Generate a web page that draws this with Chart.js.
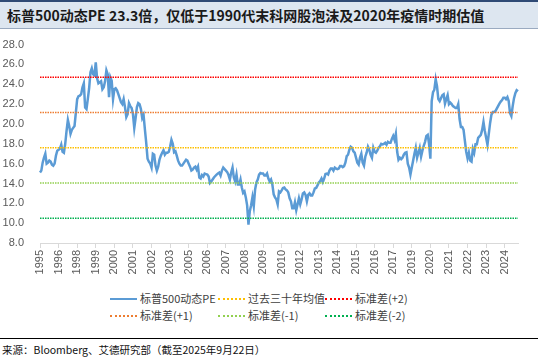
<!DOCTYPE html>
<html>
<head>
<meta charset="utf-8">
<script src="https://cdn.jsdelivr.net/npm/chart.js@4.4.1/dist/chart.umd.min.js"></script>
<style>
  body { margin: 0; width: 538px; height: 361px; background: #fff; position: relative; overflow: hidden; font-family: "Noto Sans CJK SC", sans-serif; }
  #title { position: absolute; left: 0; top: 0; width: 531px; height: 26px; background: #dde6f0; border-top: 2px solid #2f4a75; border-bottom: 1px solid #9aaac0; font-weight: bold; font-size: 14px; line-height: 26px; padding-left: 7px; box-sizing: content-box; color: #1a1a1a; }
  #wrap { position: absolute; left: 0; top: 30px; width: 538px; height: 250px; }
  .lg { position: absolute; font-size: 11px; color: #404040; line-height: 14px; white-space: nowrap; }
  .lg i { display: inline-block; width: 27px; height: 0; vertical-align: middle; margin-right: 3px; position: relative; top: -1px; }
  #sep { position: absolute; left: 0; top: 338px; width: 538px; height: 1px; background: #000; }
  #src { position: absolute; left: 2px; top: 342px; font-size: 10.5px; color: #111; }
</style>
</head>
<body>
<div id="title">标普500动态PE 23.3倍，仅低于1990代末科网股泡沫及2020年疫情时期估值</div>
<div id="wrap"><canvas id="chart" width="538" height="250"></canvas></div>
<div id="legend"></div>
<div id="sep"></div>
<div id="src">来源：Bloomberg、艾德研究部（截至2025年9月22日）</div>
<script>
// monthly, Sep 1995 - Sep 2025
const startYear = 1995;
const startMonth = 9;
const monthCount = 361;
const labelStep = 14;

const peValues = [
  15.1, 15.3, 16.1, 16.6, 17.0, 16.0, 16.1, 16.3, 16.2, 15.9, 15.8, 16.0, 16.8, 17.3, 17.4, 17.5, 17.9, 17.2, 17.1, 18.0,
  19.3, 20.4, 19.8, 19.0, 19.4, 19.6, 19.8, 21.15, 22.5, 22.8, 22.85, 23.0, 23.7, 24.1, 21.65, 21.5, 22.5, 23.6, 25.2, 25.6,
  25.0, 24.9, 26.2, 24.6, 24.1, 24.2, 24.3, 23.5, 23.7, 24.3, 25.4, 25.0, 22.7, 24.7, 24.35, 22.5, 23.5, 23.6, 23.4, 23.0,
  22.6, 22.2, 22.0, 22.5, 21.7, 20.7, 21.0, 22.1, 21.8, 21.6, 21.0, 19.6, 20.6, 21.7, 22.1, 22.0, 21.5, 20.6, 20.9, 19.45,
  18.1, 16.5, 16.2, 16.0, 15.6, 17.0, 16.9, 15.8, 15.3, 15.7, 16.4, 16.8, 17.1, 17.35, 16.9, 17.1, 17.1, 17.2, 17.7, 18.4,
  18.0, 17.15, 17.25, 16.8, 16.3, 16.0, 15.8, 15.8, 16.0, 16.2, 16.4, 16.3, 16.0, 15.7, 15.3, 15.4, 15.6, 15.7, 15.4, 15.7,
  14.6, 14.5, 14.85, 14.7, 15.0, 14.95, 14.9, 14.7, 14.05, 14.2, 14.4, 14.6, 14.75, 14.9, 15.0, 15.1, 14.8, 15.3, 15.6, 15.45,
  15.3, 15.15, 14.85, 14.4, 15.1, 15.6, 14.6, 14.2, 14.9, 13.9, 13.9, 14.4, 13.6, 13.05, 13.2, 12.6, 11.8, 9.85, 11.2, 11.8,
  12.6, 11.7, 13.4, 14.1, 14.4, 14.9, 15.05, 15.0, 15.0, 14.8, 14.8, 15.0, 14.5, 14.2, 14.4, 13.9, 12.9, 12.6, 12.4, 11.9,
  13.2, 13.1, 13.3, 13.55, 13.6, 13.4, 13.3, 13.1, 12.5, 12.2, 11.5, 11.5, 12.1, 11.3, 11.9, 12.5, 11.9, 12.4, 13.0, 13.1,
  12.85, 12.2, 12.85, 13.0, 12.8, 12.8, 13.1, 13.5, 13.55, 13.8, 14.1, 14.25, 14.5, 14.15, 14.5, 14.95, 15.0, 14.9, 15.3, 15.5,
  15.5, 15.3, 15.6, 15.5, 15.45, 15.5, 15.75, 15.75, 15.65, 15.75, 16.1, 16.75, 16.9, 17.4, 17.7, 17.6, 17.25, 17.1, 16.6, 16.1,
  15.9, 16.6, 17.0, 16.1, 15.8, 16.7, 17.1, 17.7, 17.4, 16.9, 16.6, 17.6, 17.2, 17.1, 17.3, 17.6, 17.75, 18.0, 17.95, 18.0,
  18.1, 17.9, 18.2, 18.1, 18.1, 18.5, 18.8, 18.4, 19.0, 17.2, 16.4, 16.6, 16.45, 16.6, 16.9, 17.1, 17.15, 16.0, 15.6, 14.9,
  15.6, 16.3, 17.0, 17.6, 16.6, 17.1, 17.6, 16.7, 17.3, 17.8, 18.2, 18.8, 18.9, 18.0, 16.5, 22.3, 23.2, 23.45, 24.5, 23.8,
  22.5, 22.3, 22.6, 22.9, 23.0, 22.05, 22.5, 22.9, 22.0, 22.15, 22.0, 21.8, 21.7, 21.6, 21.6, 22.0, 20.5, 19.7, 19.7, 19.4,
  18.3, 17.2, 16.55, 17.1, 16.3, 16.2, 17.5, 17.1, 17.95, 17.95, 18.6, 18.75, 18.9, 19.4, 20.2, 19.3, 18.6, 17.9, 19.0, 20.1,
  20.95, 21.2, 21.2, 21.3, 21.55, 21.8, 22.05, 22.25, 22.4, 22.65, 22.65, 22.5, 22.7, 22.3, 21.1, 20.8, 21.8, 22.6, 23.1, 23.4,
  23.3
];

const meanValue = 17.6;
const plus2Value = 24.7;
const plus1Value = 21.15;
const minus1Value = 14.05;
const minus2Value = 10.5;

const yTicks = [8, 10, 12, 14, 16, 18, 20, 22, 24, 26, 28];

const seriesNames = ['标普500动态PE', '过去三十年均值', '标准差(+2)', '标准差(+1)', '标准差(-1)', '标准差(-2)'];
const seriesColors = ['#5b9bd5', '#ffc000', '#ff0000', '#ed7d31', '#92d050', '#00b050'];

const labels = [];
for (let i = 0; i < monthCount; i++) {
    const m = startMonth - 1 + i;
    const y = startYear + Math.floor(m / 12);
    labels.push(y + '-' + String(m % 12 + 1).padStart(2, '0'));
}

function flatLine(v) {
    return labels.map(() => v);
}

const refValues = [meanValue, plus2Value, plus1Value, minus1Value, minus2Value];

const datasets = [{
    label: seriesNames[0],
    data: peValues,
    borderColor: seriesColors[0],
    borderWidth: 2.5,
    pointRadius: 0,
    tension: 0,
    order: 1
}];
refValues.forEach((v, k) => {
    datasets.push({
        label: seriesNames[k + 1],
        data: flatLine(v),
        borderColor: seriesColors[k + 1],
        borderWidth: 1.5,
        borderDash: [1.5, 1],
        pointRadius: 0,
        order: 0
    });
});

new Chart(document.getElementById('chart'), {
    type: 'line',
    data: { labels: labels, datasets: datasets },
    options: {
        responsive: false,
        animation: false,
        layout: { padding: { top: 14.5, right: 20, left: 0, bottom: 0 } },
        plugins: { legend: { display: false }, tooltip: { enabled: false } },
        scales: {
            x: {
                type: 'category',
                offset: false,
                afterFit: (s) => { s.height = 37; },
                grid: { display: true, drawOnChartArea: false, drawTicks: true, tickLength: 5, color: '#d9d9d9' },
                border: { display: true, color: '#d9d9d9' },
                ticks: {
                    autoSkip: false,
                    maxRotation: 90,
                    minRotation: 90,
                    padding: 2,
                    color: '#595959',
                    font: { family: 'Liberation Sans', size: 11 },
                    callback: function (val, idx) {
                        return idx % labelStep === 0 ? labels[idx].slice(0, 4) : null;
                    }
                }
            },
            y: {
                min: yTicks[0],
                max: yTicks[yTicks.length - 1],
                afterFit: (s) => { s.width = 40; },
                afterBuildTicks: (s) => { s.ticks = yTicks.map(v => ({ value: v })); },
                grid: { display: false },
                border: { display: false },
                ticks: {
                    padding: 8,
                    color: '#595959',
                    font: { family: 'Liberation Sans', size: 11 },
                    callback: (v) => v.toFixed(1)
                }
            }
        }
    }
});

// legend in two rows, three columns
const legendPos = [[110, 291], [218, 291], [325, 291], [110, 308], [218, 308], [325, 308]];
const legendEl = document.getElementById('legend');
seriesNames.forEach((name, k) => {
    const d = document.createElement('div');
    d.className = 'lg';
    d.style.left = legendPos[k][0] + 'px';
    d.style.top = legendPos[k][1] + 'px';
    const line = k === 0
        ? `border-top: 2.5px solid ${seriesColors[k]};`
        : `border-top: 2px dotted ${seriesColors[k]};`;
    d.innerHTML = `<i style="${line}"></i>${name}`;
    legendEl.appendChild(d);
});
</script>
</body>
</html>
